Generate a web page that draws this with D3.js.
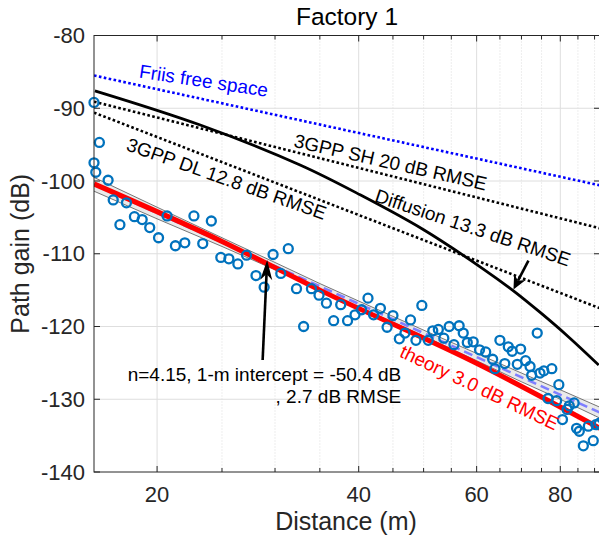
<!DOCTYPE html>
<html>
<head>
<meta charset="utf-8">
<script src="https://cdn.jsdelivr.net/npm/d3@7"></script>
<style>
  body { margin: 0; background: #fff; }
  svg text { font-family: "Liberation Sans", Arial, Helvetica, sans-serif; }
</style>
</head>
<body>
<svg id="chart" width="599" height="537"></svg>
<script>
// Measured path gain per distance (m, dB)
const distances = [16.1, 16.4, 16.1, 16.2, 16.9, 17.2, 18.0, 17.6, 18.5, 19.0,
  19.5, 20.1, 20.7, 21.3, 22.0, 22.7, 23.4, 24.1, 24.9, 25.6,
  26.4, 27.2, 28.1, 28.9, 29.8, 30.6, 31.4, 32.3, 33.1, 34.0,
  34.9, 35.8, 36.7, 37.6, 38.5, 39.5, 40.4, 41.3, 42.1, 43.1,
  44.1, 45.0, 46.0, 46.9, 47.8, 48.7, 49.7, 50.8, 51.6, 52.6,
  53.6, 54.6, 55.5, 56.5, 57.3, 58.1, 59.3, 60.6, 61.9, 63.4,
  63.9, 65.0, 66.1, 66.9, 67.8, 69.0, 69.8, 71.0, 72.1, 72.5,
  73.9, 74.6, 75.6, 76.7, 77.7, 79.0, 79.6, 80.6, 81.9, 82.5,
  83.9, 84.6, 85.4, 86.6, 88.1, 89.6, 90.4, 91.5];
const pathGains = [-89.2, -94.7, -97.5, -98.8, -99.9, -102.6, -103.0, -106.0, -104.9, -105.3,
  -106.4, -107.8, -104.8, -108.9, -108.5, -104.8, -108.6, -105.5, -110.5, -110.7,
  -111.4, -110.2, -113.0, -114.6, -110.1, -112.7, -109.3, -114.8, -120.0, -114.8,
  -115.7, -116.8, -119.2, -117.0, -119.2, -118.4, -117.7, -116.1, -118.4, -117.5,
  -120.1, -118.5, -121.7, -120.9, -119.1, -121.9, -117.1, -121.9, -120.6, -120.4,
  -121.6, -120.0, -122.5, -119.9, -120.9, -122.2, -122.1, -123.2, -123.5, -124.5,
  -125.8, -121.9, -125.1, -122.8, -123.4, -125.2, -123.1, -124.7, -125.5, -126.7,
  -120.9, -126.4, -126.1, -129.9, -125.8, -130.2, -128.0, -132.8, -131.4, -130.9,
  -130.5, -134.0, -134.4, -136.4, -133.7, -135.7, -133.5, -133.3];

// Axis ticks
const xTicks = [20, 40, 60, 80];
const xMinorTicks = [25, 30, 35, 45, 50, 55, 65, 70, 75, 85, 90];
const yTicks = [-140, -130, -120, -110, -100, -90, -80];
const xDomain = [16.1, 91.7];
const yDomain = [-140, -80];

// Straight reference models (end points over the axis range)
const lineEnds = [16.1, 91.7];
const friisGain = [-85.5, -100.6];
const sh3gppGain = [-89.1, -106.5];
const dl3gppGain = [-90.6, -117.5];

// Theory curve
const theoryDist = [16.1, 25, 35, 60.7, 91.7];
const theoryGain = [-100.4, -108.3, -115.0, -125.3, -134.0];

// Diffusion model curve
const diffusionDist = [16.15, 23.2, 32.7, 40.2, 50, 61.4, 68.1, 74.5, 82, 91.3];
const diffusionGain = [-87.6, -92.3, -97.8, -101.9, -106.7, -112.1, -115.1, -118.0, -121.3, -125.3];

// Least-squares fit and its confidence band
const fitExponent = 4.15;
const fitIntercept = -50.4;
const bandDist = [16.1, 20, 25, 30, 35, 40, 50, 60, 70, 80, 91.7];
const bandUpper = [-99.5, -103.6, -107.8, -111.2, -114.1, -116.5, -120.5, -123.7, -126.4, -128.7, -131.1];
const bandLower = [-101.4, -105.2, -109.0, -112.2, -114.9, -117.3, -121.3, -124.7, -127.6, -130.0, -132.6];

const svg = d3.select("#chart");
const plot = { left: 94, right: 600, top: 35.5, bottom: 472 };

const x = d3.scaleLog().domain(xDomain).range([plot.left, plot.right]);
const y = d3.scaleLinear().domain(yDomain).range([plot.bottom, plot.top]);

const axisColor = "#262626";

svg.append("defs").append("clipPath").attr("id", "plotClip")
  .append("rect")
  .attr("x", plot.left).attr("y", plot.top)
  .attr("width", plot.right - plot.left).attr("height", plot.bottom - plot.top);

// Grid
const grid = svg.append("g");
grid.selectAll(".minor").data(xMinorTicks).join("line")
  .attr("x1", d => x(d)).attr("x2", d => x(d))
  .attr("y1", plot.top).attr("y2", plot.bottom)
  .attr("stroke", "#d4d4d4").attr("stroke-width", 0.8)
  .attr("stroke-dasharray", "1,2");
grid.selectAll(".vmajor").data(xTicks).join("line")
  .attr("x1", d => x(d)).attr("x2", d => x(d))
  .attr("y1", plot.top).attr("y2", plot.bottom)
  .attr("stroke", "#dedede").attr("stroke-width", 1);
grid.selectAll(".hmajor").data(yTicks.slice(1, -1)).join("line")
  .attr("x1", plot.left).attr("x2", plot.right)
  .attr("y1", d => y(d)).attr("y2", d => y(d))
  .attr("stroke", "#dedede").attr("stroke-width", 1);

const g = svg.append("g").attr("clip-path", "url(#plotClip)");

// Measured points
svg.append("g").selectAll("circle").data(distances).join("circle")
  .attr("cx", d => x(d))
  .attr("cy", (d, i) => y(pathGains[i]))
  .attr("r", 4.5)
  .attr("fill", "none")
  .attr("stroke", "#0072BD")
  .attr("stroke-width", 2.3);

// Confidence band of the fit
const bandArea = d3.area()
  .x((d, i) => x(bandDist[i]))
  .y0((d, i) => y(bandLower[i]))
  .y1((d, i) => y(bandUpper[i]));
g.append("path").datum(bandDist)
  .attr("d", bandArea)
  .attr("fill", "#d6d6d6").attr("fill-opacity", 0.5);
const bandEdge = (vals) => d3.line()
  .x((d, i) => x(bandDist[i]))
  .y((d, i) => y(vals[i]));
[bandUpper, bandLower].forEach(vals => {
  g.append("path").datum(bandDist)
    .attr("d", bandEdge(vals))
    .attr("fill", "none").attr("stroke", "#555").attr("stroke-width", 0.8);
});

// Fitted path-loss line
const fitGain = lineEnds.map(d => fitIntercept - 10 * fitExponent * Math.log10(d));
const straight = (vals) => d3.line()
  .x((d, i) => x(lineEnds[i]))
  .y((d, i) => y(vals[i]));
g.append("path").datum(lineEnds)
  .attr("d", straight(fitGain))
  .attr("fill", "none").attr("stroke", "#7f7fff")
  .attr("stroke-width", 2.6).attr("stroke-dasharray", "9,5");

// Theory
const theoryLine = d3.line()
  .x((d, i) => x(theoryDist[i]))
  .y((d, i) => y(theoryGain[i]))
  .curve(d3.curveMonotoneX);
g.append("path").datum(theoryDist)
  .attr("d", theoryLine)
  .attr("fill", "none").attr("stroke", "#ff0000").attr("stroke-width", 5);

// Friis and 3GPP models
g.append("path").datum(lineEnds)
  .attr("d", straight(friisGain))
  .attr("fill", "none").attr("stroke", "#0000ff")
  .attr("stroke-width", 2.6).attr("stroke-dasharray", "2.6,2.4");
[sh3gppGain, dl3gppGain].forEach(vals => {
  g.append("path").datum(lineEnds)
    .attr("d", straight(vals))
    .attr("fill", "none").attr("stroke", "#000")
    .attr("stroke-width", 2.6).attr("stroke-dasharray", "2.6,2.4");
});

// Diffusion model
const diffusionLine = d3.line()
  .x((d, i) => x(diffusionDist[i]))
  .y((d, i) => y(diffusionGain[i]))
  .curve(d3.curveCatmullRom.alpha(0.5));
g.append("path").datum(diffusionDist)
  .attr("d", diffusionLine)
  .attr("fill", "none").attr("stroke", "#000").attr("stroke-width", 2.8);

// Axes box and ticks
svg.append("rect")
  .attr("x", plot.left).attr("y", plot.top)
  .attr("width", plot.right - plot.left).attr("height", plot.bottom - plot.top)
  .attr("fill", "none").attr("stroke", axisColor).attr("stroke-width", 1);

const ticks = svg.append("g").attr("stroke", axisColor).attr("stroke-width", 1);
xTicks.forEach(t => {
  ticks.append("line").attr("x1", x(t)).attr("x2", x(t)).attr("y1", plot.bottom).attr("y2", plot.bottom - 6);
  ticks.append("line").attr("x1", x(t)).attr("x2", x(t)).attr("y1", plot.top).attr("y2", plot.top + 6);
});
xMinorTicks.forEach(t => {
  ticks.append("line").attr("x1", x(t)).attr("x2", x(t)).attr("y1", plot.bottom).attr("y2", plot.bottom - 4);
  ticks.append("line").attr("x1", x(t)).attr("x2", x(t)).attr("y1", plot.top).attr("y2", plot.top + 4);
});
yTicks.forEach(t => {
  ticks.append("line").attr("x1", plot.left).attr("x2", plot.left + 6).attr("y1", y(t)).attr("y2", y(t));
  ticks.append("line").attr("x1", plot.right).attr("x2", plot.right - 6).attr("y1", y(t)).attr("y2", y(t));
});

// Tick labels
svg.append("g").selectAll("text").data(xTicks).join("text")
  .attr("x", d => x(d)).attr("y", 502)
  .attr("text-anchor", "middle").attr("font-size", 22).attr("fill", axisColor)
  .text(d => d);
svg.append("g").selectAll("text").data(yTicks).join("text")
  .attr("x", 85).attr("y", d => y(d)).attr("dy", "0.35em")
  .attr("text-anchor", "end").attr("font-size", 22).attr("fill", axisColor)
  .text(d => d3.format("d")(d).replace("\u2212", "-"));

// Title and axis labels
svg.append("text").attr("x", (plot.left + plot.right) / 2).attr("y", 25)
  .attr("text-anchor", "middle").attr("font-size", 24.5).attr("fill", "#000")
  .text("Factory 1");
svg.append("text").attr("x", (plot.left + plot.right) / 2 - 1).attr("y", 530)
  .attr("text-anchor", "middle").attr("font-size", 25).attr("fill", axisColor)
  .text("Distance (m)");
svg.append("text")
  .attr("transform", `translate(29,${(plot.top + plot.bottom) / 2}) rotate(-90)`)
  .attr("text-anchor", "middle").attr("font-size", 25).attr("fill", axisColor)
  .text("Path gain (dB)");

// Curve labels, anchored in data space and rotated along their curves
const curveLabels = [
  { text: "Friis free space", d: 23.4, pg: -87.1, angle: 8.5, color: "#0000ff" },
  { text: "3GPP SH 20 dB RMSE", d: 44.4, pg: -98.3, angle: 12.8, color: "#000" },
  { text: "3GPP DL 12.8 dB RMSE", d: 25.2, pg: -100.55, angle: 19.5, color: "#000" },
  { text: "Diffusion 13.3 dB RMSE", d: 58.8, pg: -107.27, angle: 18.6, color: "#000" },
  { text: "theory 3.0 dB RMSE", d: 60.0, pg: -129.2, angle: 25.5, color: "#ff0000" }
];
svg.append("g").selectAll("text").data(curveLabels).join("text")
  .attr("transform", c => `translate(${x(c.d)},${y(c.pg)}) rotate(${c.angle})`)
  .attr("text-anchor", "middle").attr("font-size", 19).attr("fill", c => c.color)
  .text(c => c.text);

// Fit annotation
const fitNoteD = 46.3, fitNotePg = -127.5;
const note = svg.append("text")
  .attr("text-anchor", "end").attr("font-size", 19).attr("fill", "#000");
note.append("tspan").attr("x", x(fitNoteD)).attr("y", y(fitNotePg))
  .text(`n=${fitExponent}, 1-m intercept = ${fitIntercept} dB`);
note.append("tspan").attr("x", x(fitNoteD)).attr("dy", 22.3)
  .text(", 2.7 dB RMSE");

// Arrows
function arrow(tail, tip, len, half) {
  const x1 = x(tail[0]), y1 = y(tail[1]), x2 = x(tip[0]), y2 = y(tip[1]);
  const L = Math.hypot(x2 - x1, y2 - y1);
  const ux = (x2 - x1) / L, uy = (y2 - y1) / L;
  const nx = -uy, ny = ux;
  const bx = x2 - ux * len, by = y2 - uy * len;
  const kx = x2 - ux * len * 0.7, ky = y2 - uy * len * 0.7;
  svg.append("line").attr("x1", x1).attr("y1", y1).attr("x2", kx).attr("y2", ky)
    .attr("stroke", "#000").attr("stroke-width", 2.6);
  svg.append("path")
    .attr("d", `M${x2},${y2}L${bx + nx * half},${by + ny * half}L${kx},${ky}L${bx - nx * half},${by - ny * half}Z`)
    .attr("fill", "#000");
}
arrow([28.75, -124.6], [29.2, -110.86], 20, 6);
arrow([71.7, -110.95], [68.1, -114.9], 14, 6.5);
</script>
</body>
</html>
